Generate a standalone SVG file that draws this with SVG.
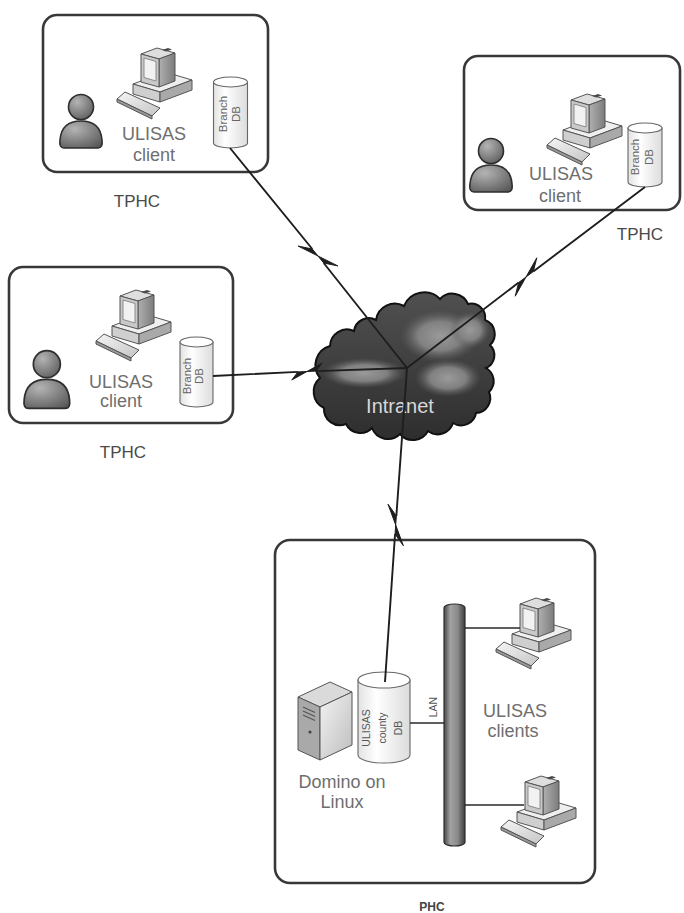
<svg xmlns="http://www.w3.org/2000/svg" width="684" height="913" viewBox="0 0 684 913">
<style>
.frame{fill:#fff;stroke:#383838;stroke-width:2.6}
.txt{font-family:"Liberation Sans",Arial,sans-serif;text-anchor:middle}
.lbl{font-size:18px;fill:#6e6e6e}
.site{font-size:17px;fill:#4a4a4a}
.cyl{font-size:11.5px;fill:#666}
.small{font-size:10.5px;fill:#555}
.link{fill:none;stroke:#1e1e1e;stroke-width:1.9;stroke-linejoin:miter;stroke-miterlimit:10}
.bolt{fill:#1e1e1e;stroke:#1e1e1e;stroke-width:1;stroke-linejoin:round}
.tap{fill:none;stroke:#2a2a2a;stroke-width:1.6}
.edge{stroke:#555;stroke-width:1;stroke-linejoin:round}
.db{fill:url(#gDb);stroke:#666;stroke-width:1.1}
.dbTop{fill:#fff;stroke:#666;stroke-width:1.1}
</style>
<defs>
  <linearGradient id="gDb" x1="0" y1="0" x2="1" y2="0">
    <stop offset="0" stop-color="#e2e2e2"/><stop offset="0.35" stop-color="#fff"/><stop offset="1" stop-color="#dcdcdc"/>
  </linearGradient>
  <radialGradient id="gPerson" cx="0.35" cy="0.3" r="0.85">
    <stop offset="0" stop-color="#b4b4b4"/><stop offset="1" stop-color="#575757"/>
  </radialGradient>
  <linearGradient id="gCase" x1="0" y1="0" x2="1" y2="1">
    <stop offset="0" stop-color="#f6f6f6"/><stop offset="1" stop-color="#c4c4c4"/>
  </linearGradient>
  <linearGradient id="gSide" x1="0" y1="0" x2="1" y2="0">
    <stop offset="0" stop-color="#b0b0b0"/><stop offset="1" stop-color="#7c7c7c"/>
  </linearGradient>
  <linearGradient id="gCloud" x1="0" y1="0" x2="0" y2="1">
    <stop offset="0" stop-color="#505050"/><stop offset="1" stop-color="#2e2e2e"/>
  </linearGradient>
  <radialGradient id="gPuff">
    <stop offset="0" stop-color="#9a9a9a"/><stop offset="0.55" stop-color="#848484" stop-opacity="0.95"/><stop offset="1" stop-color="#5e5e5e" stop-opacity="0"/>
  </radialGradient>
  <linearGradient id="gLan" x1="0" y1="0" x2="1" y2="0">
    <stop offset="0" stop-color="#474747"/><stop offset="0.3" stop-color="#a2a2a2"/><stop offset="0.65" stop-color="#8a8a8a"/><stop offset="1" stop-color="#3c3c3c"/>
  </linearGradient>
  <linearGradient id="gTower" x1="0" y1="0" x2="1" y2="1">
    <stop offset="0" stop-color="#f4f4f4"/><stop offset="1" stop-color="#bdbdbd"/>
  </linearGradient>

  <path id="cloudShape" d="M320,378 A20,20 0 0 1 330,346 A17,17 0 0 1 354,331 A15,15 0 0 1 376,320 A19,19 0 0 1 404,306 A22,22 0 0 1 440,299 A17,17 0 0 1 468,304 A14,14 0 0 1 485,320 A15,15 0 0 1 490,345 A14,14 0 0 1 486,368 A15,15 0 0 1 489,392 A15,15 0 0 1 476,413 A15,15 0 0 1 453,423 A16,16 0 0 1 428,431 A17,17 0 0 1 400,434 A17,17 0 0 1 372,428 A16,16 0 0 1 346,424 A16,16 0 0 1 324,408 A18,18 0 0 1 320,378 Z"/>
  <clipPath id="cloudClip"><use href="#cloudShape"/></clipPath>

  <!-- desktop PC: case, monitor, keyboard (80 x 79) -->
  <g id="pc">
    <polygon class="edge" points="20,44 52,32 79,40 47,52" fill="#efefef"/>
    <polygon class="edge" points="20,44 47,52 47,62 20,54" fill="#cfcfcf"/>
    <polygon class="edge" points="47,52 79,40 79,50 47,62" fill="#a9a9a9"/>
    <polygon class="edge" points="28,14 44,8 62,13 46,19" fill="#dedede"/>
    <polygon class="edge" points="46,19 62,13 62,41 46,47" fill="url(#gSide)"/>
    <polygon class="edge" points="28,14 46,19 46,47 28,42" fill="#c9c9c9"/>
    <polygon points="31,18 43,21.5 43,41 31,37.5" fill="#f2f2f2" stroke="#777" stroke-width="0.8"/>
    <polygon points="49,10 55,8 59,9.5 53,11.5" fill="#4a4a4a"/>
    <polygon class="edge" points="4,59 12,52 47,68 39,76" fill="url(#gCase)"/>
    <polygon class="edge" points="4,59 39,76 39,79 4,62" fill="#9a9a9a"/>
  </g>

  <!-- user silhouette (46 x 56) -->
  <g id="person">
    <path d="M6,56 Q1,56 2,48 C3,35 10,29 23,29 C36,29 43,35 44,48 Q45,56 40,56 Z" fill="url(#gPerson)" stroke="#2e2e2e" stroke-width="1.6"/>
    <circle cx="23" cy="15" r="12.5" fill="url(#gPerson)" stroke="#2e2e2e" stroke-width="1.6"/>
  </g>
</defs>

<rect width="684" height="913" fill="#fff"/>

<!-- branch site, top left -->
<g id="tphc-top-left">
  <rect class="frame" x="43" y="15" width="225" height="157" rx="14"/>
  <use href="#person" x="58" y="92"/>
  <use href="#pc" x="113" y="40"/>
  <text class="txt lbl" x="154" y="140">ULISAS</text>
  <text class="txt lbl" x="154" y="161">client</text>
  <path class="db" d="M213.5,82 V143 A17,5 0 0 0 247.5,143 V82 Z"/>
  <ellipse class="dbTop" cx="230.5" cy="82" rx="17" ry="5"/>
  <text class="txt cyl" transform="translate(230.5,114) rotate(-90)"><tspan x="0" y="-4">Branch</tspan><tspan x="0" y="9.5">DB</tspan></text>
  <text class="txt site" x="137" y="207">TPHC</text>
</g>

<!-- branch site, top right -->
<g id="tphc-top-right">
  <rect class="frame" x="464" y="56" width="216" height="154" rx="14"/>
  <use href="#person" x="468" y="136"/>
  <use href="#pc" x="543" y="86"/>
  <text class="txt lbl" x="561" y="180">ULISAS</text>
  <text class="txt lbl" x="560" y="202">client</text>
  <path class="db" d="M628,128 V182 A17,5 0 0 0 662,182 V128 Z"/>
  <ellipse class="dbTop" cx="645" cy="128" rx="17" ry="5"/>
  <text class="txt cyl" transform="translate(645,157) rotate(-90)"><tspan x="0" y="-6">Branch</tspan><tspan x="0" y="8">DB</tspan></text>
  <text class="txt site" x="640" y="240">TPHC</text>
</g>

<!-- branch site, middle left -->
<g id="tphc-mid-left">
  <rect class="frame" x="9" y="267" width="224" height="156" rx="14"/>
  <use href="#person" transform="translate(22,348) scale(1.08)"/>
  <use href="#pc" x="92" y="282"/>
  <text class="txt lbl" x="121" y="388">ULISAS</text>
  <text class="txt lbl" x="121" y="407">client</text>
  <path class="db" d="M180,342 V402 A16.5,5 0 0 0 213,402 V342 Z"/>
  <ellipse class="dbTop" cx="196.5" cy="342" rx="16.5" ry="5"/>
  <text class="txt cyl" transform="translate(196.5,376) rotate(-90)"><tspan x="0" y="-5.5">Branch</tspan><tspan x="0" y="6.5">DB</tspan></text>
  <text class="txt site" x="123" y="458">TPHC</text>
</g>

<!-- head office -->
<g id="phc">
  <rect class="frame" x="275" y="540" width="320" height="343" rx="15"/>
  <g id="phc-server">
    <polygon class="edge" points="298,697 330,682 352,692 320,707" fill="#dadada"/>
    <polygon class="edge" points="298,697 320,707 320,760 298,750" fill="#a9a9a9"/>
    <polygon class="edge" points="320,707 352,692 352,745 320,760" fill="url(#gTower)"/>
    <path d="M303,707 L315,712.5 M303,711 L315,716.5 M303,715 L315,720.5" stroke="#555" stroke-width="1.2"/>
    <circle cx="310" cy="732" r="1.6" fill="#444"/>
  </g>
  <g id="phc-db">
    <path class="db" d="M358,680 V755 A26,8 0 0 0 410,755 V680 Z"/>
    <ellipse class="dbTop" cx="384" cy="680" rx="26" ry="8"/>
    <text class="txt small" transform="translate(384,728) rotate(-90)"><tspan x="0" y="-14">ULISAS</tspan><tspan x="0" y="2">county</tspan><tspan x="0" y="18">DB</tspan></text>
  </g>
  <text class="txt lbl" x="342" y="788">Domino on</text>
  <text class="txt lbl" x="342" y="808">Linux</text>
  <g id="phc-lan">
    <path d="M444,608 A10.5,4 0 0 1 465,608 V842 A10.5,4 0 0 1 444,842 Z" fill="url(#gLan)" stroke="#2e2e2e" stroke-width="1.2"/>
    <text class="txt small" transform="translate(433,707) rotate(-90)" y="4" font-size="11.5">LAN</text>
  </g>
  <g id="phc-clients">
    <use href="#pc" x="492" y="590"/>
    <use href="#pc" x="497" y="768"/>
    <text class="txt lbl" x="515" y="717">ULISAS</text>
    <text class="txt lbl" x="513" y="737">clients</text>
  </g>
  <text class="txt" x="432" y="911" font-size="12" font-weight="bold" fill="#444">PHC</text>
</g>

<!-- wide-area network -->
<g id="intranet">
  <use href="#cloudShape" fill="url(#gCloud)" stroke="#111" stroke-width="2"/>
  <g clip-path="url(#cloudClip)">
    <ellipse cx="440" cy="336" rx="40" ry="26" fill="url(#gPuff)"/>
    <ellipse cx="470" cy="330" rx="20" ry="18" fill="url(#gPuff)"/>
    <ellipse cx="364" cy="373" rx="42" ry="15" fill="url(#gPuff)"/>
    <ellipse cx="448" cy="378" rx="33" ry="19" fill="url(#gPuff)"/>
  </g>
  <text class="txt" x="400" y="413" font-size="20" fill="#d8d8d8">Intranet</text>
</g>

<!-- links with lightning-bolt breaks -->
<g id="connectors">
  <path class="link" d="M230,148 L312.3,249 M323.7,263 L407,368"/>
  <polygon class="bolt" points="298.2,246.1 312.3,249 318,256 323.7,263 337.8,265.9 318,256"/>
  <path class="link" d="M645,187 L533.3,271.5 M518.7,282.5 L407,368"/>
  <polygon class="bolt" points="536.8,257.8 533.3,271.5 526,277 518.7,282.5 515.2,296.2 526,277"/>
  <path class="link" d="M213,376 L297.9,371.9 M316.1,371.1 L407,368"/>
  <polygon class="bolt" points="291.8,380 297.9,371.9 307,371.5 316.1,371.1 322.2,363 307,371.5"/>
  <path class="link" d="M407,368 L396.35,515.9 M395.05,534.1 L385,682"/>
  <polygon class="bolt" points="388,504.2 396.35,515.9 395.7,525 395.05,534.1 403.4,545.8 395.7,525"/>
  <path class="tap" d="M410,723 H444 M465,628 H520 M465,805 H524"/>
</g>
</svg>
